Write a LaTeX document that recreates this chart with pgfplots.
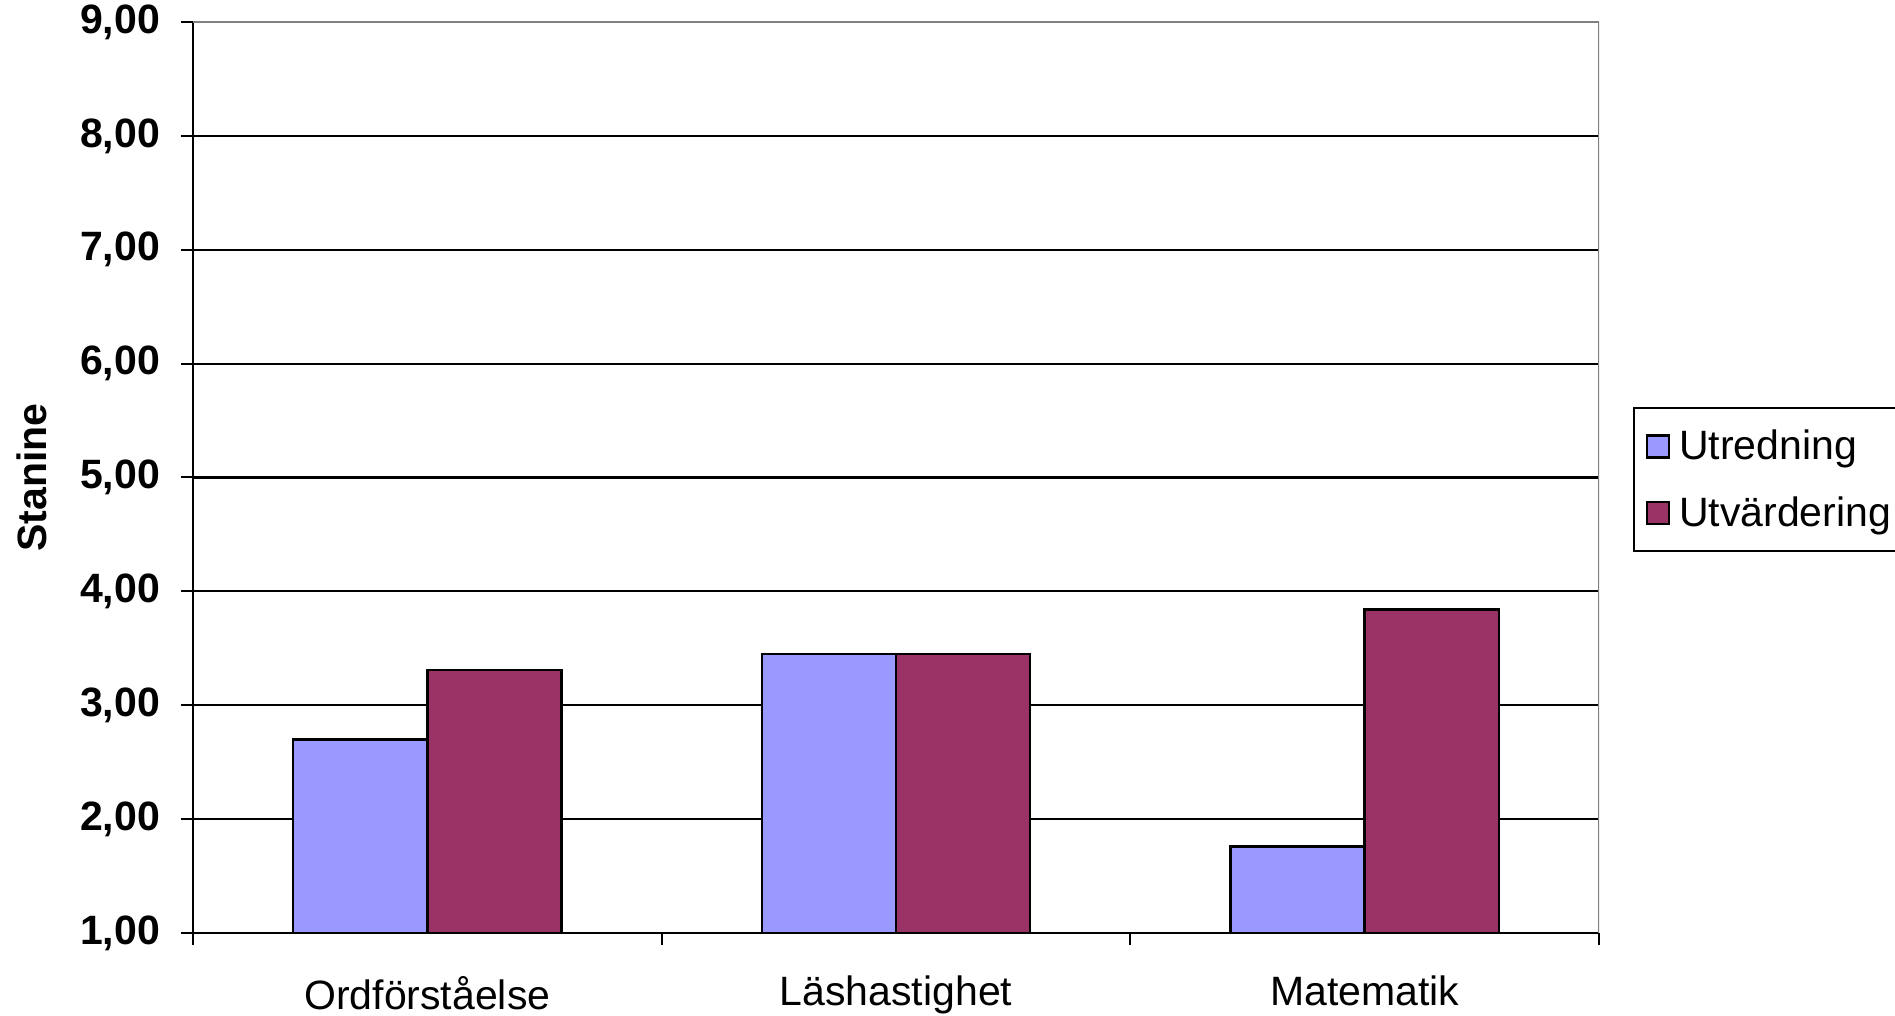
\documentclass[border=0pt]{standalone}
\usepackage{pgfplots}
\pgfplotsset{compat=1.18}
\usepackage{fontspec}
\setmainfont{Liberation Sans}
\definecolor{utred}{HTML}{9999FF}
\definecolor{utvard}{HTML}{993366}
\definecolor{ramgra}{HTML}{808080}
\begin{document}
\begin{tikzpicture}
\path[use as bounding box] (0,0) rectangle (947.5pt,508pt);
\begin{axis}[
  at={(96.5pt,41.5pt)}, anchor=south west,
  scale only axis, width=703pt, height=455.5pt,
  font=\fontsize{20.5}{24}\selectfont,
  xmin=-0.5, xmax=2.5, ymin=1, ymax=9,
  axis x line*=bottom, axis y line*=left,
  axis line style={-, black, line width=1pt},
  ytick={1,...,9},
  ymajorgrids, grid style={black, line width=1.1pt},
  tick align=outside, major tick length=6pt,
  tick style={black, line width=1pt},
  xtick={0,1,2},
  xticklabels={Ordförståelse,Läshastighet,Matematik},
  major x tick style={draw=none},
  extra x ticks={-0.5,0.5,1.5,2.5},
  extra x tick labels={},
  extra x tick style={major x tick style={draw=black, line width=1pt}, grid=none},
  xticklabel style={yshift=-12pt},
  /pgf/number format/.cd, fixed, fixed zerofill, precision=2, use comma, assume math mode=true,
  /pgfplots/.cd,
  yticklabel style={font=\fontsize{20.5}{24}\selectfont\bfseries, xshift=-7pt},
  ylabel={Stanine},
  every axis y label/.style={at={(axis description cs:-0.1145,0.5)}, rotate=90, anchor=center,
    font=\fontsize{20.5}{24}\selectfont\bfseries},
  legend image code/.code={\path[draw=none, fill=none] (0pt,0pt) -- (14pt,0pt);
    \draw[#1,draw=black,line width=1.2pt] (0pt,-5.5pt) rectangle (11pt,5.5pt);},
  legend cell align=left,
  legend style={at={(1.0242,0.5774)}, anchor=north west, draw=black, line width=1pt,
    inner xsep=6pt, inner ysep=9pt, row sep=13pt},
]
\addplot[ybar, bar width=0.286, bar shift=-0.143, fill=utred, draw=black, line width=1.2pt]
  coordinates {(0,2.70) (1,3.45) (2,1.76)};
\addlegendentry{Utredning}
\addplot[ybar, bar width=0.286, bar shift=0.143, fill=utvard, draw=black, line width=1.2pt]
  coordinates {(0,3.31) (1,3.45) (2,3.84)};
\addlegendentry{Utvärdering}
\draw[ramgra, line width=1pt] (rel axis cs:0,1) -- (rel axis cs:1,1) -- (rel axis cs:1,0);
\end{axis}
\end{tikzpicture}
\end{document}
